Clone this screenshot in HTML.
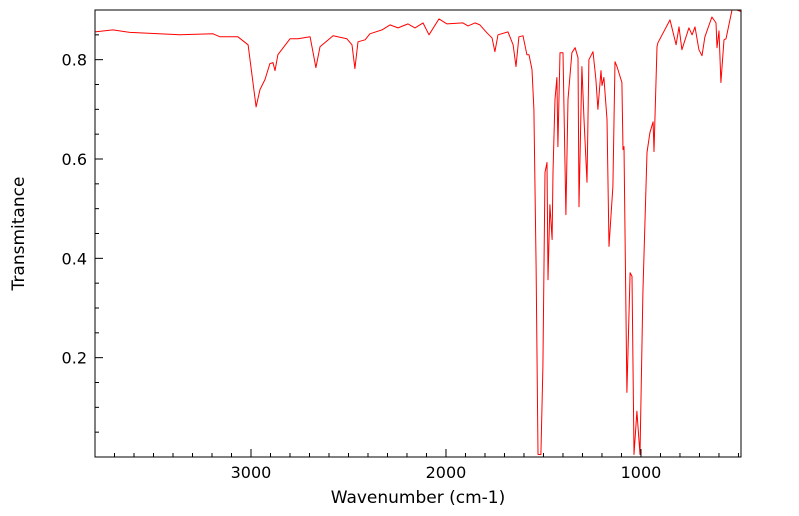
<!DOCTYPE html>
<html><head><meta charset="utf-8"><style>
html,body{margin:0;padding:0;background:#fff;}
svg{display:block;font-family:"DejaVu Sans","Liberation Sans",sans-serif;}
</style></head><body>
<svg id="chart" width="799" height="516"></svg>
<script>
const wavenumbers=[3800,3708,3620,3364,3195,3159,3067,3015,2974,2954,2928,2903,2887,2877,2862,2800,2759,2697,2667,2646,2579,2508,2482,2467,2451,2415,2390,2328,2287,2246,2195,2159,2118,2087,2036,1995,1913,1887,1851,1826,1790,1764,1749,1733,1682,1656,1641,1626,1605,1585,1574,1559,1549,1538,1528,1513,1503,1492,1482,1477,1467,1456,1451,1441,1431,1426,1415,1400,1385,1374,1354,1338,1323,1318,1303,1292,1277,1267,1246,1231,1221,1205,1200,1190,1174,1164,1144,1133,1123,1098,1092,1087,1072,1056,1046,1036,1021,1005,990,969,954,938,933,918,913,851,820,805,790,754,738,723,703,687,672,636,615,610,600,590,574,564,533,508,487];
const transmittance=[0.856,0.860,0.855,0.850,0.852,0.846,0.846,0.830,0.705,0.740,0.760,0.792,0.794,0.778,0.810,0.842,0.842,0.846,0.784,0.826,0.848,0.842,0.830,0.782,0.836,0.840,0.852,0.860,0.870,0.864,0.872,0.864,0.874,0.850,0.882,0.872,0.874,0.868,0.874,0.870,0.854,0.844,0.816,0.850,0.856,0.830,0.786,0.846,0.848,0.810,0.810,0.780,0.700,0.384,0.005,0.005,0.182,0.573,0.593,0.357,0.508,0.438,0.573,0.720,0.764,0.625,0.814,0.814,0.488,0.720,0.814,0.824,0.804,0.504,0.786,0.680,0.553,0.800,0.816,0.760,0.700,0.778,0.748,0.764,0.680,0.424,0.545,0.796,0.786,0.754,0.619,0.625,0.130,0.371,0.364,0.005,0.092,0.005,0.331,0.613,0.653,0.675,0.615,0.826,0.834,0.880,0.830,0.866,0.820,0.864,0.850,0.866,0.820,0.808,0.846,0.886,0.874,0.824,0.858,0.754,0.840,0.842,0.900,0.900,0.897];
const xTicks=[3000,2000,1000];
const yTicks=[0.2,0.4,0.6,0.8];

const L=95,R=741,T=10,B=457, xMax=3800, xMin=487, yMin=0, yMax=0.9;
const sx=v=>L+(xMax-v)/(xMax-xMin)*(R-L);
const sy=v=>B-(v-yMin)/(yMax-yMin)*(B-T);
const svg=document.getElementById('chart');
const NS='http://www.w3.org/2000/svg';
function mk(tag,attrs){const e=document.createElementNS(NS,tag);for(const k in attrs)e.setAttribute(k,attrs[k]);svg.appendChild(e);return e;}

const defs=mk('defs',{});
const cp=document.createElementNS(NS,'clipPath');cp.setAttribute('id','clip');
const cr=document.createElementNS(NS,'rect');cr.setAttribute('x',L);cr.setAttribute('y',T);cr.setAttribute('width',R-L);cr.setAttribute('height',B-T);
cp.appendChild(cr);defs.appendChild(cp);

const pts=wavenumbers.map((w,i)=>sx(w).toFixed(1)+','+sy(transmittance[i]).toFixed(1)).join(' ');
const line=mk('polyline',{points:pts,fill:'none',stroke:'#ff0000','stroke-width':1,'clip-path':'url(#clip)','stroke-linejoin':'round'});



const frame=mk('rect',{x:L,y:T,width:R-L,height:B-T,fill:'none',stroke:'#000','stroke-width':1});



for(let v=3800;v>=500;v-=100){
  const major=v%1000===0;
  const t=mk('line',{x1:sx(v),x2:sx(v),y1:B,y2:B-(major?8:4),stroke:'#000','stroke-width':1});
  
  
}
xTicks.forEach(v=>{
  const t=mk('text',{x:sx(v),y:B+21,'text-anchor':'middle','font-size':16,fill:'#000'});
  t.textContent=v;
  
  
});
for(let k=1;k<=17;k++){
  const v=k*0.05; const major=k%4===0;
  const t=mk('line',{x1:L,x2:L+(major?8:4),y1:sy(v),y2:sy(v),stroke:'#000','stroke-width':1});
  
  
}
yTicks.forEach(v=>{
  const t=mk('text',{x:L-8,y:sy(v)+6,'text-anchor':'end','font-size':16,fill:'#000'});
  t.textContent=v.toFixed(1);
  
  
});
const xt=mk('text',{x:(L+R)/2,y:503,'text-anchor':'middle','font-size':17,fill:'#000'});
xt.textContent='Wavenumber (cm-1)';


const yt=mk('text',{x:0,y:0,'text-anchor':'middle','font-size':17,fill:'#000',transform:'translate(24,'+((T+B)/2)+') rotate(-90)'});
yt.textContent='Transmitance';


</script>
</body></html>
